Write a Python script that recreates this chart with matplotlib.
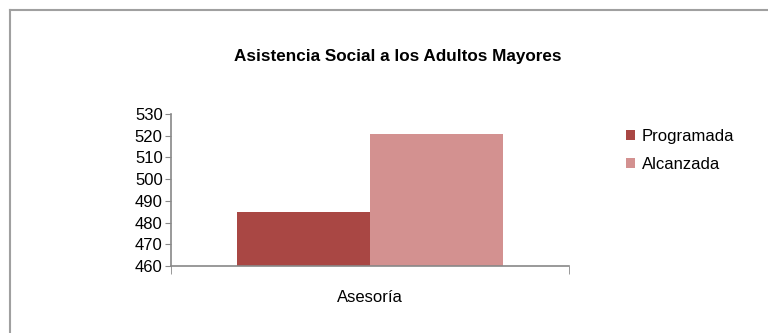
import matplotlib
matplotlib.use("Agg")
import matplotlib.pyplot as plt
from matplotlib.lines import Line2D

categories = ["Asesoría"]
series_names = ["Programada", "Alcanzada"]
programada = [485]
alcanzada = [521]
yticks = [460, 470, 480, 490, 500, 510, 520, 530]
colors = ["#A94744", "#D39190"]

plt.rcParams['font.family'] = ['Liberation Sans', 'DejaVu Sans']

fig = plt.figure(figsize=(7.68, 3.33), dpi=100)
ax = fig.add_axes([171/768, 1-266/333, (569-171)/768, (266-114)/333])

w = 0.335
x = range(len(categories))
for i, (vals, name, c) in enumerate(zip([programada, alcanzada], series_names, colors)):
    pos = [xi + (i - 0.5) * w for xi in x]
    ax.bar(pos, [v - yticks[0] for v in vals], bottom=yticks[0], width=w, color=c, label=name)

ax.set_xlim(-0.5, len(categories) - 0.5)
ax.set_ylim(yticks[0], yticks[-1])
ax.set_yticks(yticks)
ax.set_xticks(list(x))
ax.set_xticklabels(categories)
ax.tick_params(axis='y', labelsize=12, length=4, color='#888888', direction='out', pad=2)
ax.tick_params(axis='x', labelsize=12, length=0, pad=17)
ax.set_xticks([-0.5, 0.5], minor=True)
ax.tick_params(axis='x', which='minor', length=6, color='#888888', direction='out')
for s in ['top', 'right']:
    ax.spines[s].set_visible(False)
for s in ['left', 'bottom']:
    ax.spines[s].set_color('#888888')
    ax.spines[s].set_linewidth(1.2)

fig.text(398/768, 1-57/333, "Asistencia Social a los Adultos Mayores", ha='center', va='center',
         fontsize=12.3, fontweight='bold')

leg = fig.legend(loc='upper left', bbox_to_anchor=(626/768, 1-129/333), frameon=False,
                 fontsize=12, handlelength=0.55, handleheight=0.55, handletextpad=0.4,
                 labelspacing=0.8, borderaxespad=0, borderpad=0)

fig.add_artist(Line2D([9.5/768, 9.5/768], [0, 1-9.5/333], transform=fig.transFigure, color='#A0A0A0', lw=1.5))
fig.add_artist(Line2D([9.5/768, 1], [1-9.5/333, 1-9.5/333], transform=fig.transFigure, color='#A0A0A0', lw=1.5))

fig.savefig("out.png", dpi=100)
